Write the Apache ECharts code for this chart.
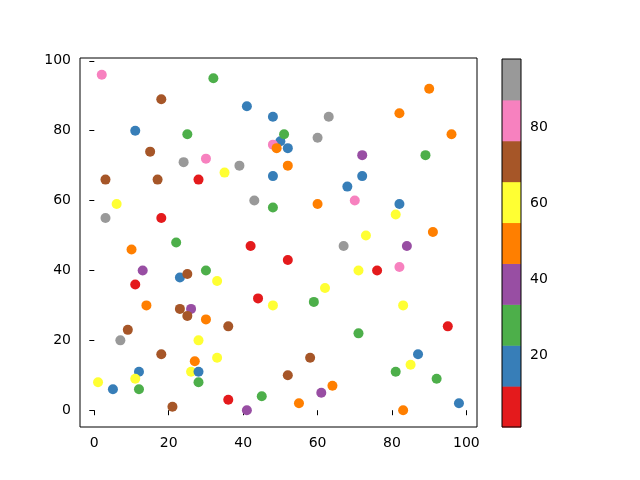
<!DOCTYPE html>
<html>
<head>
<meta charset="utf-8">
<script src="https://cdn.jsdelivr.net/npm/echarts@6/dist/echarts.min.js"></script>
<style>html,body{margin:0;padding:0;background:#fff;}#c{width:640px;height:480px;}</style>
</head>
<body>
<div id="c"></div>
<script>
const xs = [2,32,18,41,48,11,25,15,24,30,39,35,3,17,28,48,43,48,6,3,18,50,51,48,52,49,52,63,60,90,82,96,72,89,72,68,70,82,60,81,73,91,22,10,42,13,23,25,30,33,11,44,48,14,23,26,25,30,36,9,7,28,18,33,27,12,26,28,11,1,28,5,12,36,45,21,41,67,84,52,71,76,82,62,59,83,95,71,87,58,85,81,52,92,64,61,55,98,83];
const ys = [96,95,89,87,84,80,79,74,71,72,70,68,66,66,66,67,60,58,59,55,55,77,79,76,75,75,70,84,78,92,85,79,73,73,67,64,60,59,59,56,50,51,48,46,47,40,38,39,40,37,36,32,30,30,29,29,27,26,24,23,20,20,16,15,14,11,11,11,9,8,8,6,6,3,4,1,0,47,47,43,40,40,41,35,31,30,24,22,16,15,13,11,10,9,7,5,2,2,0];
const cs = [82,28,71,17,17,17,28,71,93,82,93,60,71,71,6,17,93,28,60,93,6,17,28,82,17,50,50,93,93,50,50,50,39,28,17,17,82,17,50,60,60,50,28,50,6,39,17,71,28,60,6,6,60,50,71,39,71,50,71,71,93,60,71,60,50,17,60,17,60,60,28,17,28,6,28,71,39,93,39,6,60,6,82,60,28,60,6,28,17,71,60,28,71,28,50,39,50,17,50];
const xTicks = [0,20,40,60,80,100];
const yTicks = [0,20,40,60,80,100];
const cbTicks = [20,40,60,80];
const cMin = 1, cMax = 98;
const set1 = ['#e41a1c','#377eb8','#4daf4a','#984ea3','#ff7f00','#ffff33','#a65628','#f781bf','#999999'];

const n = set1.length;
const step = (cMax - cMin) / n;
const bins = set1.map((col, i) => [cMin + i * step, cMin + (i + 1) * step, i]);
const pieces = bins.map(b => ({gte: b[0], lt: b[1] + (b[2] === n - 1 ? 1 : 0), color: set1[b[2]]}));
const pts = xs.map((x, i) => [x, ys[i], cs[i]]);

const font = 'DejaVu Sans';
const lab = {color: '#000', fontFamily: font, fontSize: 14, margin: 9};
const tick = {show: true, inside: false, length: 5, lineStyle: {color: '#000', width: 1}};

const chart = echarts.init(document.getElementById('c'), null, {renderer: 'canvas'});
chart.setOption({
  animation: false,
  backgroundColor: '#fff',
  grid: [
    {left: 80, top: 58, width: 397, height: 369, show: true, borderColor: '#000', borderWidth: 1},
    {left: 502, top: 59, width: 19, height: 368, show: true, borderColor: '#000', borderWidth: 1, z: 5}
  ],
  xAxis: [
    {gridIndex: 0, type: 'value', min: -3.85, max: 102.85,
     axisLine: {show: false}, splitLine: {show: false},
     axisTick: Object.assign({customValues: xTicks}, tick),
     axisLabel: Object.assign({customValues: xTicks}, lab)},
    {gridIndex: 1, type: 'value', min: 0, max: 1, show: false}
  ],
  yAxis: [
    {gridIndex: 0, type: 'value', min: -4.8, max: 100.8,
     axisLine: {show: false}, splitLine: {show: false},
     axisTick: Object.assign({customValues: yTicks}, tick),
     axisLabel: Object.assign({customValues: yTicks}, lab)},
    {gridIndex: 1, type: 'value', min: cMin, max: cMax, position: 'right',
     axisLine: {show: false}, splitLine: {show: false},
     axisTick: Object.assign({customValues: cbTicks}, tick),
     axisLabel: Object.assign({customValues: cbTicks}, lab)}
  ],
  visualMap: {type: 'piecewise', show: false, seriesIndex: 0, dimension: 2, pieces: pieces},
  series: [
    {type: 'scatter', xAxisIndex: 0, yAxisIndex: 0, data: pts, symbolSize: 10,
     itemStyle: {opacity: 1}},
    {type: 'custom', xAxisIndex: 1, yAxisIndex: 1, data: bins,
     renderItem: function (params, api) {
       const p0 = api.coord([0, api.value(1)]);
       const p1 = api.coord([1, api.value(0)]);
       return {type: 'rect', shape: {x: p0[0], y: p0[1], width: p1[0] - p0[0], height: p1[1] - p0[1] + 0.5},
               style: {fill: set1[api.value(2)]}};
     }}
  ]
});
</script>
</body>
</html>
